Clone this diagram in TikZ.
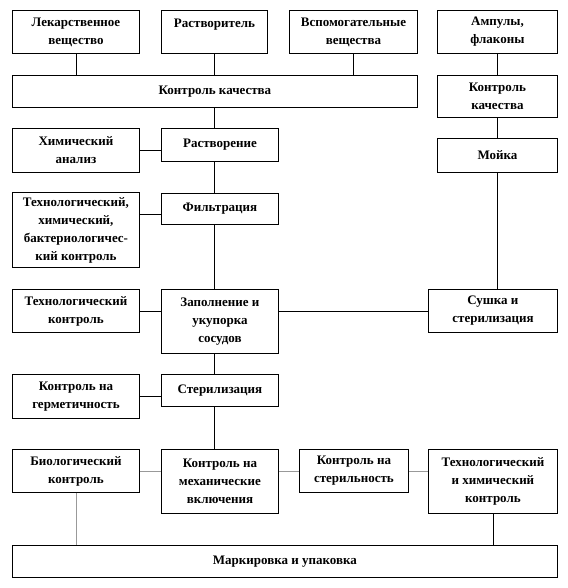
\documentclass[tikz,border=0pt]{standalone}
\usepackage{fontspec}
\setmainfont{Liberation Serif}
\usetikzlibrary{positioning,calc}

\begin{document}
\begin{tikzpicture}[
  x=1pt, y=-1pt,
  font=\fontsize{13}{18}\selectfont\bfseries,
  box/.style ={draw, line width=0.9pt, align=center, anchor=north west, inner sep=2pt},
  lcol/.style={box, minimum width=127pt},
  mcol/.style={box, minimum width=117pt},
  rcol/.style={box, minimum width=120pt},
  lnk/.style ={line width=0.8pt},
  glnk/.style={lnk, gray!80},
]
\useasboundingbox (0,0) rectangle (567,588);

%% ---------------- raw materials ----------------
\node[lcol, minimum height=43pt] (lek) at (12,10) {Лекарственное\\вещество};
\node[box, minimum width=106pt, minimum height=43pt] (rast) at (161,10) {Растворитель\\~};
\node[box, minimum width=128pt, minimum height=43pt] (vsp) at (289,10) {Вспомогательные\\вещества};
\node[rcol, minimum height=43pt] (amp) at (437,10) {Ампулы,\\флаконы};

\node[box, minimum width=405pt, minimum height=32pt] (kk) at (12,75) {Контроль качества};
\node[rcol, minimum height=42pt] (kk2) at (437,75) {Контроль\\качества};
\node[rcol, minimum height=34pt] (moy) at (437,138) {Мойка};

%% ---------------- main line ----------------
\node[mcol, minimum height=33pt] (rastv) at (161,128) {Растворение};
\node[mcol, minimum height=31pt] (filt) at (161,193) {Фильтрация};
\node[mcol, minimum height=64pt] (zap) at (161,289) {Заполнение и\\укупорка\\сосудов};
\node[mcol, minimum height=32pt] (ster) at (161,374) {Стерилизация};
\node[mcol, minimum height=64pt] (kmv) at (161,449) {Контроль на\\механические\\включения};

%% ---------------- controls ----------------
\node[lcol, minimum height=44pt] (him) at (12,128) {Химический\\анализ};
\node[lcol, minimum height=75pt] (thb) at (12,192) {Технологический,\\химический,\\бактериологичес-\\кий контроль};
\node[lcol, minimum height=43pt] (tk) at (12,289) {Технологический\\контроль};
\node[box, minimum width=129pt, minimum height=43pt] (sush) at (428,289) {Сушка и\\стерилизация};
\node[lcol, minimum height=44pt] (germ) at (12,374) {Контроль на\\герметичность};
\node[lcol, minimum height=43pt] (bio) at (12,449) {Биологический\\контроль};
\node[box, minimum width=109pt, minimum height=43pt] (kst) at (299,449) {Контроль на\\стерильность};
\node[box, minimum width=129pt, minimum height=64pt] (thk) at (428,449) {Технологический\\и химический\\контроль};

\node[box, minimum width=545pt, minimum height=32pt] (mark) at (12,545) {Маркировка и упаковка};

%% ---------------- links ----------------
\draw[lnk] (lek.south) -- (lek.south |- kk.north);
\draw[lnk] (rast.south) -- (rast.south |- kk.north);
\draw[lnk] (vsp.south) -- (vsp.south |- kk.north);
\draw[lnk] (amp.south) -- (kk2.north);
\draw[lnk] (kk2.south) -- (moy.north);
\draw[lnk] (moy.south) -- (sush.north -| moy.south);

\draw[lnk] (kk.south -| rast.south) -- (rastv.north -| rast.south);
\draw[lnk] (rastv.south -| rast.south) -- (filt.north -| rast.south);
\draw[lnk] (filt.south -| rast.south) -- (zap.north -| rast.south);
\draw[lnk] (zap.south -| rast.south) -- (ster.north -| rast.south);
\draw[lnk] (ster.south -| rast.south) -- (kmv.north -| rast.south);

\draw[lnk] (him.east) -- (him.east -| rastv.west);
\draw[lnk] ([yshift=-5pt]filt.west) coordinate (f) -- (f -| thb.east);
\draw[lnk] (tk.east) -- (tk.east -| zap.west);
\draw[lnk] (zap.east |- sush.west) -- (sush.west);
\draw[lnk] (germ.east) -- (germ.east -| ster.west);

\draw[glnk] (bio.east) -- (bio.east -| kmv.west);
\draw[glnk] (kmv.east |- kst.west) -- (kst.west);
\draw[glnk] (kst.east) -- (kst.east -| thk.west);
\draw[glnk] (bio.south) -- (bio.south |- mark.north);
\draw[lnk] (thk.south) -- (thk.south |- mark.north);

\end{tikzpicture}
\end{document}
